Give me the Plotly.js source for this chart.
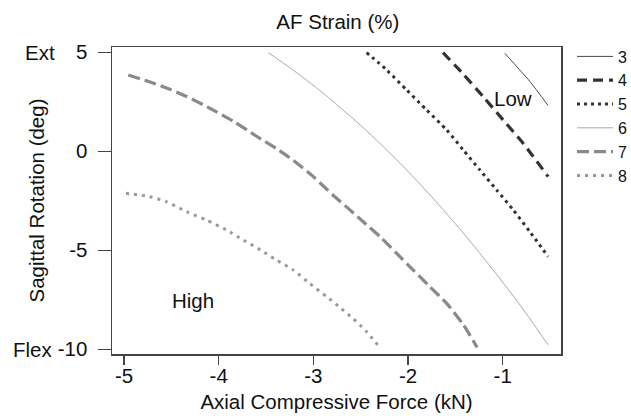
<!DOCTYPE html>
<html>
<head>
<meta charset="utf-8">
<script src="https://cdn.plot.ly/plotly-3.0.1.min.js"></script>
<style>html,body{margin:0;padding:0;background:#fff;}#chart{width:631px;height:416px;}</style>
</head>
<body>
<div id="chart"></div>
<script>
// Data (x: axial force kN, y: sagittal rotation deg)
const labels = ["3", "4", "5", "6", "7", "8"];

const x3 = [-0.977, -0.85, -0.713, -0.52];
const y3 = [4.95, 4.27, 3.53, 2.31];

const x4 = [-1.63, -1.417, -1.206, -0.995, -0.783, -0.52];
const y4 = [4.98, 3.90, 2.76, 1.58, 0.40, -1.28];

const x5 = [-2.437, -2.226, -2.015, -1.804, -1.592, -1.417, -1.241, -1.064, -0.889, -0.713, -0.52];
const y5 = [4.98, 4.11, 3.10, 2.09, 1.08, 0.07, -0.94, -1.95, -2.96, -4.06, -5.32];

const x6 = [-3.476, -3.30, -3.14, -2.95, -2.78, -2.60, -2.473, -2.297, -2.12, -1.945, -1.769, -1.592, -1.417, -1.241, -1.064, -0.889, -0.713, -0.52];
const y6 = [4.98, 4.40, 3.84, 3.14, 2.47, 1.73, 1.19, 0.40, -0.43, -1.29, -2.20, -3.15, -4.12, -5.15, -6.22, -7.30, -8.45, -9.78];

const x7 = [-4.955, -4.725, -4.514, -4.338, -4.092, -3.846, -3.60, -3.388, -3.212, -3.0, -2.80, -2.614, -2.473, -2.297, -2.12, -1.945, -1.769, -1.592, -1.417, -1.27];
const y7 = [3.85, 3.50, 3.13, 2.77, 2.17, 1.52, 0.76, 0.13, -0.46, -1.28, -2.18, -2.96, -3.56, -4.31, -5.15, -6.0, -6.84, -7.68, -8.75, -9.9];

const x8 = [-4.98, -4.73, -4.55, -4.34, -4.13, -3.92, -3.74, -3.56, -3.39, -3.21, -3.04, -2.86, -2.72, -2.58, -2.44, -2.30];
const y8 = [-2.12, -2.29, -2.55, -3.05, -3.47, -3.97, -4.48, -4.98, -5.49, -6.0, -6.67, -7.34, -7.88, -8.45, -9.1, -9.9];

const xTicks = [-5, -4, -3, -2, -1];
const yTicks = [5, 0, -5, -10];

const FONT = "Liberation Sans, Arial, Helvetica, sans-serif";
const FS = 20.5;

const styles = [
  {color: "#4a4a4a", width: 1, dash: "solid"},
  {color: "#333333", width: 3.2, dash: "10px,6px"},
  {color: "#333333", width: 3, dash: "3px,4px"},
  {color: "#a8a8a8", width: 1, dash: "solid"},
  {color: "#8a8a8a", width: 3.2, dash: "12px,5px"},
  {color: "#999999", width: 3, dash: "3px,5px"}
];
const xs = [x3, x4, x5, x6, x7, x8];
const ys = [y3, y4, y5, y6, y7, y8];

const traces = labels.map((lab, i) => ({
  type: "scatter", mode: "lines", name: lab,
  x: xs[i], y: ys[i],
  line: {color: styles[i].color, width: styles[i].width, dash: styles[i].dash, shape: "spline", smoothing: 0.6},
  hoverinfo: "skip"
}));

const txt = {family: FONT, size: FS, color: "#111111"};

const layout = {
  width: 631, height: 416,
  margin: {l: 112, r: 70, t: 47, b: 62, pad: 0, autoexpand: false},
  paper_bgcolor: "#ffffff", plot_bgcolor: "#ffffff",
  font: txt,
  showlegend: true,
  title: {text: "AF Strain (%)", x: 0.503, xanchor: "center", xref: "paper", y: 0.948, yanchor: "middle", font: txt},
  xaxis: {
    range: [-5.127, -0.384], tickvals: xTicks, ticktext: xTicks.map(String),
    ticks: "outside", ticklen: 9, tickwidth: 1.5, tickcolor: "#444",
    showline: true, linecolor: "#444", linewidth: 1.5, mirror: true,
    showgrid: false, zeroline: false, ticklabelstandoff: -6,
    tickfont: txt,
    title: {text: "Axial Compressive Force (kN)", font: txt, standoff: 8}
  },
  yaxis: {
    range: [-10.237, 5.268], tickvals: yTicks, ticktext: yTicks.map(String),
    ticks: "outside", ticklen: 13, tickwidth: 1.5, tickcolor: "#444",
    showline: true, linecolor: "#444", linewidth: 1.5, mirror: true,
    showgrid: false, zeroline: false, ticklabelstandoff: 6,
    tickfont: txt,
    title: {text: "Sagittal Rotation (deg)", font: txt, standoff: 7}
  },
  legend: {
    xref: "container", yref: "container",
    x: 0.9065, xanchor: "left", y: 0.905, yanchor: "top",
    font: {family: FONT, size: 16, color: "#111"},
    bgcolor: "rgba(0,0,0,0)", borderwidth: 0, itemwidth: 36, tracegroupgap: 0
  },
  annotations: [
    {text: "High", x: -4.275, y: -7.51, xref: "x", yref: "y", showarrow: false, font: txt},
    {text: "Low", x: -0.889, y: 2.68, xref: "x", yref: "y", showarrow: false, font: txt},
    {text: "Ext", x: -0.198, xanchor: "left", y: 5, yanchor: "middle", xref: "paper", yref: "y", showarrow: false, font: txt},
    {text: "Flex", x: -0.226, xanchor: "left", y: -10, yanchor: "middle", xref: "paper", yref: "y", showarrow: false, font: txt}
  ]
};

Plotly.newPlot("chart", traces, layout, {displayModeBar: false, staticPlot: true});
</script>
</body>
</html>
